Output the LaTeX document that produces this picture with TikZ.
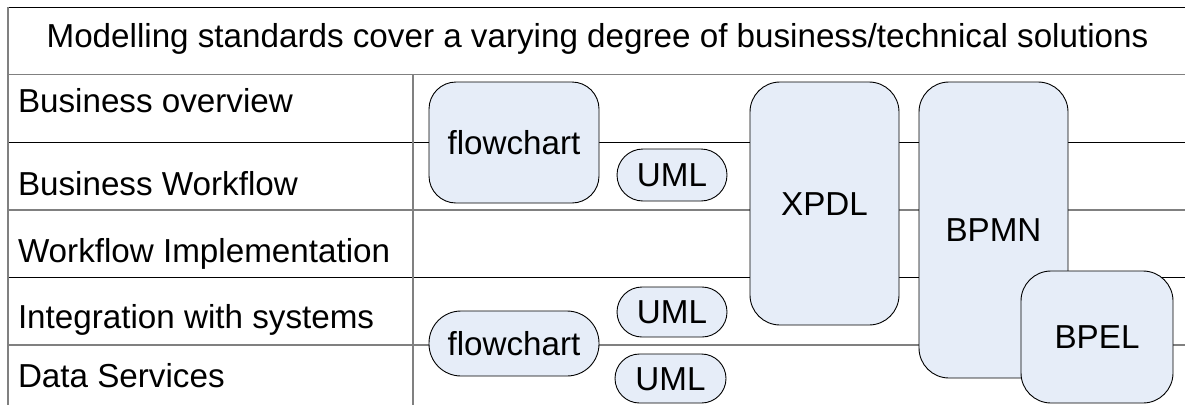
\documentclass[tikz,border=0pt]{standalone}
\usepackage{fontspec}
\setmainfont{Liberation Sans}
\definecolor{boxfill}{HTML}{E6EDF8}
\definecolor{rulegray}{HTML}{808080}
\begin{document}
\begin{tikzpicture}[x=1pt,y=-1pt,
  every node/.style={font=\fontsize{33.2}{40}\selectfont, inner sep=0pt, outer sep=0pt},
  thinrule/.style={draw=black, line width=1pt},
  grayrule/.style={draw=rulegray, line width=1.3pt},
  stdbox/.style={draw=black, line width=0.9pt, fill=boxfill,
    text height=23.7pt, text depth=0pt},
  rowlabel/.style={anchor=base west}]
\useasboundingbox (0,0) rectangle (1185,405);

% grid coordinates
\coordinate (tl) at (8,7);
\coordinate (tr) at (1185,7);
\coordinate (hl) at (8,74.5);
\coordinate (hr) at (1185,74.5);

% row separators (alternating black and gray)
\draw[thinrule] (8,142) -- (1185,142);
\draw[grayrule] (8,210) -- (1185,210);
\draw[thinrule] (8,277) -- (1185,277);
\draw[grayrule] (8,345) -- (1185,345);

% frame
\draw[thinrule] (tl) -- (tr);
\draw[grayrule] (hl) -- (hr);
\draw[grayrule] (tl) -- (8,405);
\draw[grayrule] (413,74.5) -- (413,405);

% heading
\node[anchor=base] (title) at (597.5,47) {Modelling standards cover a varying degree of business/technical solutions};

% row labels
\node[rowlabel] (r1) at (18,112) {Business overview};
\node[rowlabel] (r2) at (18,195) {Business Workflow};
\node[rowlabel] (r3) at (18,262) {Workflow Implementation};
\node[rowlabel] (r4) at (18,328) {Integration with systems};
\node[rowlabel] (r5) at (18,387) {Data Services};

% standards
\node[stdbox, minimum width=170pt, minimum height=121pt, rounded corners=27pt] (flow1) at (514,142.5) {flowchart};
\node[stdbox, minimum width=110pt, minimum height=52pt, rounded corners=26pt] (uml1) at (672,175) {UML};
\node[stdbox, minimum width=149pt, minimum height=243pt, rounded corners=30pt] (xpdl) at (824.5,203.5) {XPDL};
\node[stdbox, minimum width=149pt, minimum height=296pt, rounded corners=30pt] (bpmn) at (993.5,230) {BPMN};
\node[stdbox, minimum width=152pt, minimum height=132pt, rounded corners=30pt] (bpel) at (1097,337) {BPEL};
\node[stdbox, minimum width=170pt, minimum height=65pt, rounded corners=32pt] (flow2) at (514,343.5) {flowchart};
\node[stdbox, minimum width=110pt, minimum height=50pt, rounded corners=25pt] (uml2) at (672,312) {UML};
\node[stdbox, minimum width=111pt, minimum height=49pt, rounded corners=24.5pt] (uml3) at (670.5,378.5) {UML};
\end{tikzpicture}
\end{document}
